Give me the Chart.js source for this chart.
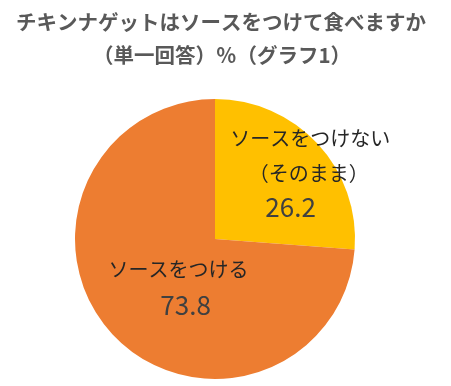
<!DOCTYPE html>
<html><head><meta charset="utf-8">
<script src="https://cdn.jsdelivr.net/npm/chart.js@4/dist/chart.umd.min.js"></script>
<style>html,body{margin:0;padding:0;background:#fff;}canvas{display:block;}</style>
</head><body>
<canvas id="c" width="451" height="386"></canvas>
<script>
const titleLines = ['チキンナゲットはソースをつけて食べますか', '（単一回答）％（グラフ1）'];
const categories = [['ソースをつけない', '（そのまま）'], ['ソースをつける']];
const values = [26.2, 73.8];
const colors = ['#FFC000', '#ED7D31'];

const FONT = '"Noto Sans CJK JP", "Noto Sans", sans-serif';

const labelPlugin = {
  id: 'labels',
  afterDraw(chart) {
    const ctx = chart.ctx;
    const meta = chart.getDatasetMeta(0);
    ctx.save();
    ctx.textAlign = 'center';
    ctx.textBaseline = 'middle';
    // title
    ctx.fillStyle = '#595959';
    ctx.font = 'bold 20.5px ' + FONT;
    ctx.fillText(titleLines[0], 221, 22);
    ctx.fillText(titleLines[1], 222, 55);
    // slice labels, relative to pie centre / radius
    const a0 = meta.data[0];
    const cx = a0.x, cy = a0.y, r = a0.outerRadius;
    const layouts = [
      {lines: [[0.68, -0.72], [0.67, -0.47]], num: [0.54, -0.23]},
      {lines: [[-0.26, 0.22]], num: [-0.21, 0.47]}
    ];
    layouts.forEach((L, i) => {
      ctx.fillStyle = '#262626';
      ctx.font = '20px ' + FONT;
      categories[i].forEach((t, j) => {
        ctx.fillText(t, cx + L.lines[j][0] * r, cy + L.lines[j][1] * r);
      });
      ctx.fillStyle = '#404040';
      ctx.font = '26px ' + FONT;
      ctx.fillText(values[i].toFixed(1), cx + L.num[0] * r, cy + L.num[1] * r);
    });
    ctx.restore();
  }
};

new Chart(document.getElementById('c'), {
  type: 'pie',
  data: {
    labels: categories.map(c => c.join('')),
    datasets: [{ data: values, backgroundColor: colors, borderWidth: 0 }]
  },
  options: {
    responsive: false,
    animation: false,
    layout: { padding: { top: 99, left: 75, right: 96, bottom: 7 } },
    plugins: { legend: { display: false }, tooltip: { enabled: false }, title: { display: false } }
  },
  plugins: [labelPlugin]
});
</script>
</body></html>
